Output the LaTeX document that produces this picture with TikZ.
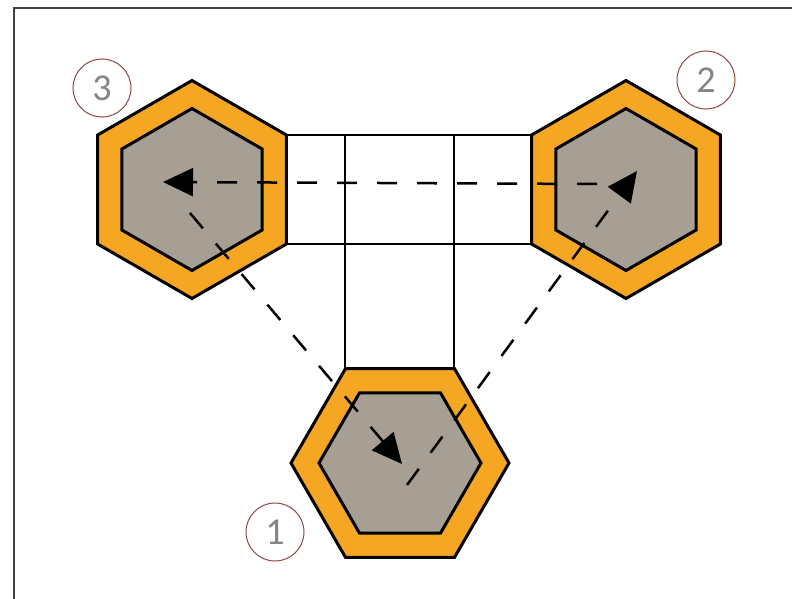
\documentclass[tikz,border=0pt]{standalone}
\usepackage{fontspec}
\newfontfamily\labfont{Carlito}
\usetikzlibrary{shapes.geometric,arrows.meta}
\definecolor{hexorange}{HTML}{F5A623}
\definecolor{hexgray}{HTML}{A89F94}
\definecolor{ringred}{HTML}{8E4444}
\definecolor{numgray}{HTML}{858585}
\tikzset{
  outerhex/.style={regular polygon, regular polygon sides=6, minimum size=218pt, inner sep=0pt, draw=black, line width=3pt, fill=hexorange},
  innerhex/.style={regular polygon, regular polygon sides=6, minimum size=162pt, inner sep=0pt, draw=black, line width=3pt, fill=hexgray},
  pointy/.style={shape border rotate=30},
  cellbox/.style={rectangle, draw=black, line width=2.5pt, inner sep=0pt},
  flow/.style={draw=black, line width=2.5pt, dash pattern=on 20pt off 20pt, -{Triangle[length=30pt,width=28pt]}},
  numring/.style={circle, draw=ringred, line width=1pt, minimum size=58pt, inner sep=0pt, text=numgray, font=\labfont\fontsize{38}{38}\selectfont},
  frameline/.style={draw=black!75, line width=1.6pt}
}
\begin{document}
\begin{tikzpicture}[x=1pt,y=-1pt]
\useasboundingbox (0,0) rectangle (792,599);
% frame
\coordinate (fa) at (14,599);
\coordinate (fb) at (14,8);
\coordinate (fc) at (792,8);
\draw[frameline] (fa) -- (fb) -- (fc);
% connecting rooms
\node[cellbox, minimum width=245pt, minimum height=109pt] (bar) at (409.5,189.5) {};
\node[cellbox, minimum width=109pt, minimum height=234pt] (stem) at (399.5,252) {};
% hexagons
\node[outerhex, pointy] (h3) at (192,189.5) {};
\node[innerhex, pointy] (i3) at (192,189.5) {};
\node[outerhex, pointy] (h2) at (626,189.5) {};
\node[innerhex, pointy] (i2) at (626,189.5) {};
\node[outerhex] (h1) at (400,463) {};
\node[innerhex] (i1) at (400,463) {};
% flows
\coordinate (s23) at (597,184);
\coordinate (e23) at (163,182);
\coordinate (s31) at (190,213);
\coordinate (e31) at (402,464);
\coordinate (s12) at (407,485);
\coordinate (e12) at (637,171);
\draw[flow] (s23) -- (e23);
\draw[flow] (s31) -- (e31);
\draw[flow] (s12) -- (e12);
% labels
\node[numring] (n3) at (102,88) {3};
\node[numring] (n2) at (706,80) {2};
\node[numring] (n1) at (275,532) {1};
\end{tikzpicture}
\end{document}
